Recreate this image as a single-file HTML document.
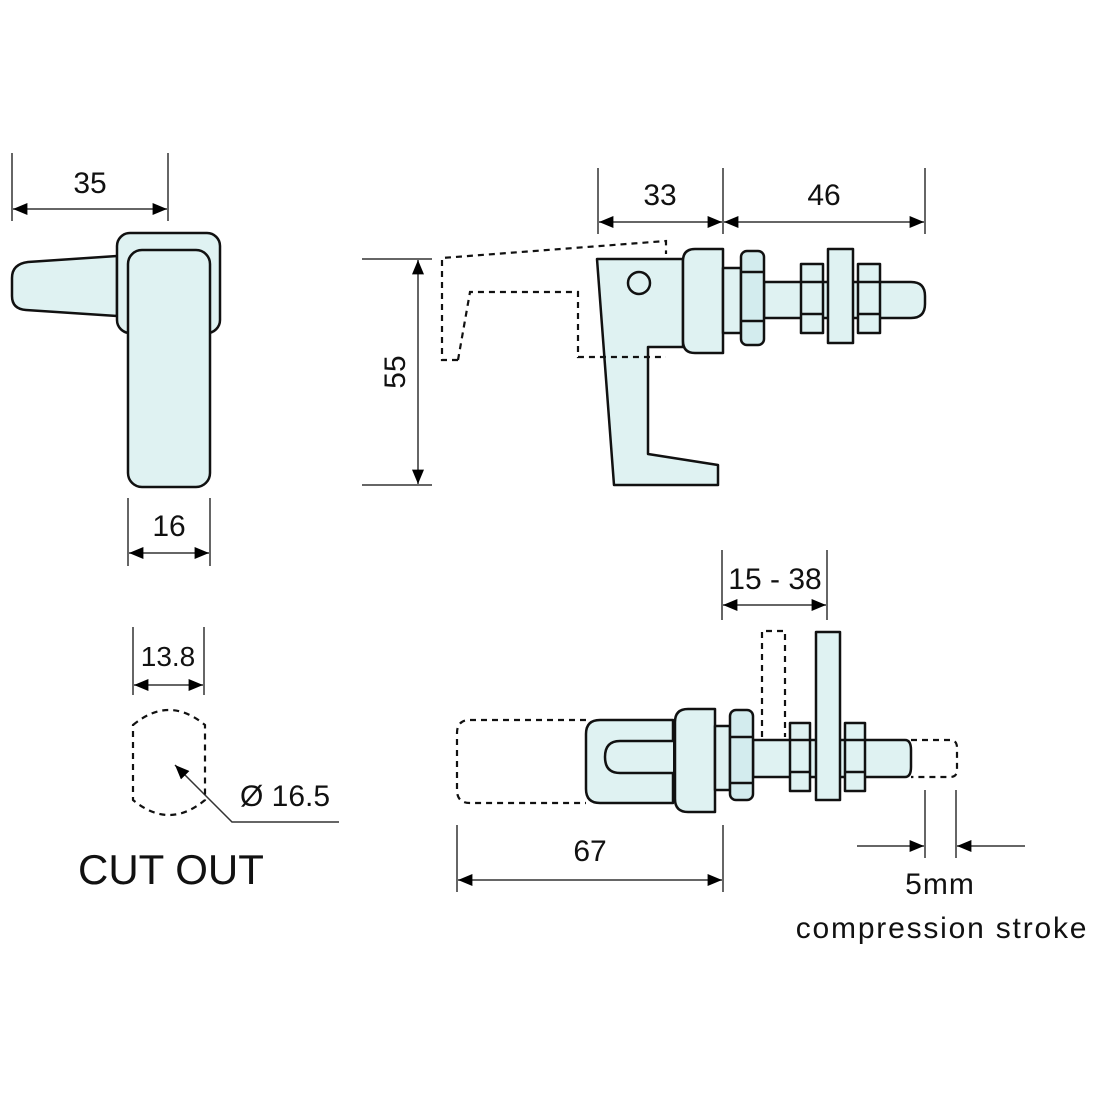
<!DOCTYPE html>
<html><head><meta charset="utf-8"><style>
html,body{margin:0;padding:0;background:#fff}
svg{display:block}
text{font-family:"Liberation Sans","DejaVu Sans",sans-serif;fill:#111}
</style></head><body>
<svg width="1100" height="1100" viewBox="0 0 1100 1100" xmlns="http://www.w3.org/2000/svg">
<defs>
<marker id="a" viewBox="0 0 12 10" refX="12" refY="5" markerWidth="24" markerHeight="12" markerUnits="userSpaceOnUse" orient="auto-start-reverse"><path d="M0,0 L12,5 L0,10 Z" fill="#000"/></marker>
</defs>
<g stroke="#333" stroke-width="1.5" fill="none">
<line x1="12" y1="153" x2="12" y2="221"/><line x1="168" y1="153" x2="168" y2="221"/>
<line x1="13" y1="209" x2="167" y2="209" marker-start="url(#a)" marker-end="url(#a)"/>
<line x1="128" y1="498" x2="128" y2="566"/><line x1="210" y1="498" x2="210" y2="566"/>
<line x1="129" y1="553" x2="209" y2="553" marker-start="url(#a)" marker-end="url(#a)"/>
<line x1="133" y1="627" x2="133" y2="695"/><line x1="204" y1="627" x2="204" y2="695"/>
<line x1="134" y1="685" x2="203" y2="685" marker-start="url(#a)" marker-end="url(#a)"/>
<polyline points="339,822 232,822 175,765" marker-end="url(#a)"/>
<line x1="362" y1="259" x2="432" y2="259"/><line x1="362" y1="485" x2="432" y2="485"/>
<line x1="418" y1="260" x2="418" y2="484" marker-start="url(#a)" marker-end="url(#a)"/>
<line x1="598" y1="168" x2="598" y2="234"/><line x1="723" y1="168" x2="723" y2="234"/><line x1="925" y1="168" x2="925" y2="234"/>
<line x1="599" y1="222" x2="722" y2="222" marker-start="url(#a)" marker-end="url(#a)"/>
<line x1="724" y1="222" x2="924" y2="222" marker-start="url(#a)" marker-end="url(#a)"/>
<line x1="722" y1="550" x2="722" y2="620"/><line x1="827" y1="550" x2="827" y2="620"/>
<line x1="723" y1="605" x2="826" y2="605" marker-start="url(#a)" marker-end="url(#a)"/>
<line x1="457" y1="825" x2="457" y2="892"/><line x1="723" y1="825" x2="723" y2="892"/>
<line x1="458" y1="880" x2="722" y2="880" marker-start="url(#a)" marker-end="url(#a)"/>
<line x1="925" y1="790" x2="925" y2="858"/><line x1="956" y1="790" x2="956" y2="858"/>
<line x1="857" y1="846" x2="924" y2="846" marker-end="url(#a)"/>
<line x1="1025" y1="846" x2="957" y2="846" marker-end="url(#a)"/>
</g>

<g stroke="#111" stroke-width="2.5" fill="#dff2f2" stroke-linejoin="round">
<path d="M117,256 L28,262 Q12,264 12,278 L12,296 Q12,309 26,310 L117,316 Z"/>
<rect x="117" y="233" width="103" height="100" rx="13"/>
<rect x="128" y="250" width="82" height="237" rx="14"/>
<path d="M597,259 L683,259 L683,347 L648,347 L648,454 L718,465 L718,485 L614,485 Z"/>
<circle cx="639" cy="283" r="11"/>
<path d="M695,249 L723,249 L723,353 L695,353 Q683,353 683,341 L683,261 Q683,249 695,249 Z"/>
<rect x="723" y="268" width="18" height="65"/>
<path d="M764,282 L911,282 Q925,282 925,296 L925,304 Q925,318 911,318 L764,318 Z"/>
<rect x="801" y="264" width="22" height="69"/>
<line x1="801" y1="282" x2="823" y2="282"/><line x1="801" y1="314" x2="823" y2="314"/>
<rect x="828" y="249" width="25" height="94"/>
<rect x="858" y="264" width="22" height="69"/>
<line x1="858" y1="282" x2="880" y2="282"/><line x1="858" y1="314" x2="880" y2="314"/>
<rect x="741" y="251" width="23" height="94" rx="6" fill="#d3ecee"/>
<line x1="741" y1="272" x2="764" y2="272"/><line x1="741" y1="321" x2="764" y2="321"/>
<path d="M673,720 L600,720 Q586,720 586,734 L586,789 Q586,803 600,803 L673,803 Z"/>
<path d="M673,741 L620,741 Q605,741 605,757 Q605,773 620,773 L673,773" fill="#dff2f2"/>
<path d="M688,709 L715,709 L715,812 L688,812 Q675,812 675,799 L675,722 Q675,709 688,709 Z"/>
<rect x="715" y="726" width="15" height="64"/>
<path d="M753,740 L905,740 Q911,740 911,750 L911,767 Q911,777 905,777 L753,777 Z"/>
<rect x="790" y="723" width="20" height="68"/>
<line x1="790" y1="740" x2="810" y2="740"/><line x1="790" y1="772" x2="810" y2="772"/>
<rect x="816" y="632" width="24" height="168"/>
<rect x="845" y="723" width="20" height="68"/>
<line x1="845" y1="740" x2="865" y2="740"/><line x1="845" y1="772" x2="865" y2="772"/>
<rect x="730" y="710" width="23" height="90" rx="6" fill="#d3ecee"/>
<line x1="730" y1="737" x2="753" y2="737"/><line x1="730" y1="783" x2="753" y2="783"/>
</g>

<g stroke="#111" stroke-width="2.2" fill="none" stroke-dasharray="6,5">
<path d="M133,725 Q169,695 205,725 L205,800 Q169,830 133,800 Z"/>
<path d="M458,360 L442,360 L442,258 L666,241 L666,254"/>
<path d="M458,360 L470,292 L578,292 L578,357 L666,357"/>
<path d="M586,720 L470,720 Q457,720 457,733 L457,790 Q457,803 470,803 L586,803"/>
<path d="M762,737 L762,631 L785,631 L785,737"/>
<path d="M911,740 L950,740 Q957,740 957,748 L957,770 Q957,777 950,777 L911,777"/>
</g>

<g font-size="30">
<text x="90" y="193" text-anchor="middle">35</text>
<text x="169" y="536" text-anchor="middle">16</text>
<text x="168" y="666" text-anchor="middle" font-size="28">13.8</text>
<text x="240" y="806">Ø 16.5</text>
<text x="78" y="884" font-size="42">CUT OUT</text>
<text x="660" y="205" text-anchor="middle">33</text>
<text x="824" y="205" text-anchor="middle">46</text>
<text transform="translate(405,372) rotate(-90)" text-anchor="middle">55</text>
<text x="775" y="589" text-anchor="middle">15 - 38</text>
<text x="590" y="861" text-anchor="middle">67</text>
<text x="940" y="894" text-anchor="middle" letter-spacing="1">5mm</text>
<text x="942" y="938" text-anchor="middle" letter-spacing="1.8">compression stroke</text>
</g>
</svg>
</body></html>
